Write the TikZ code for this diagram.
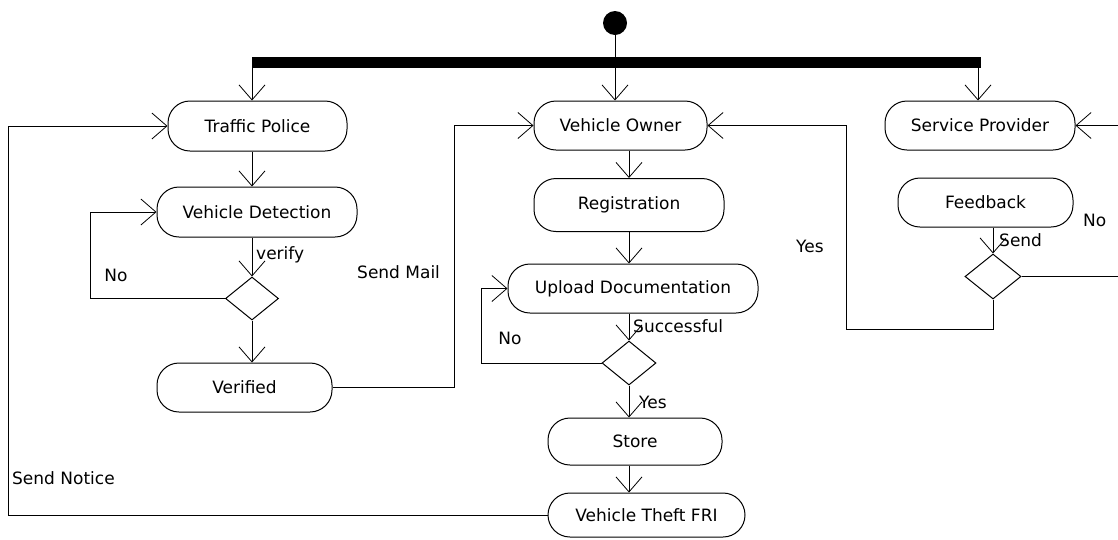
\documentclass[tikz,border=0pt]{standalone}
\usepackage{fontspec}
\setmainfont{DejaVu Sans}
\usetikzlibrary{arrows.meta,shapes.geometric}
\begin{document}
\begin{tikzpicture}[x=1pt,y=-1pt,
  every node/.style={font=\fontsize{17}{20}\selectfont},
  act/.style={draw, line width=1pt, rounded corners=22pt, inner sep=0pt, align=center},
  dec/.style={draw, line width=1pt, diamond, inner sep=0pt},
  lab/.style={inner sep=0pt},
  conn/.style={draw, line width=0.9pt},
  arr/.style={conn, -{Straight Barb[length=15pt,width=26pt,line width=0.8pt]}}
]
\useasboundingbox (0,0) rectangle (1118,539);
% column coordinates
\coordinate (cL) at (252,0);
\coordinate (cM) at (629,0);
\coordinate (cS) at (978,0);
\coordinate (xL) at (8,0);
\coordinate (xD) at (90,0);
\coordinate (xm) at (454,0);
\coordinate (xU) at (481,0);
\coordinate (xv) at (846,0);
\coordinate (xr) at (1126,0);
\coordinate (yb) at (0,329);

% start and fork
\node[circle, fill=black, minimum size=24pt, inner sep=0pt] (start) at (615,23) {};
\node[fill=black, minimum width=729pt, minimum height=11pt, inner sep=0pt] (bar) at (616.5,62.5) {};

% activities
\node[act, minimum width=179pt, minimum height=50pt] (tp) at (257.5,126) {Traffic Police};
\node[act, minimum width=200pt, minimum height=50pt] (vd) at (257,212) {Vehicle Detection};
\node[act, minimum width=175pt, minimum height=49pt] (vf) at (244.5,387.5) {Verified};
\node[act, minimum width=173pt, minimum height=49pt] (vo) at (620.5,125.5) {Vehicle Owner};
\node[act, minimum width=190pt, minimum height=53pt] (reg) at (629,205) {Registration};
\node[act, minimum width=250pt, minimum height=49pt] (up) at (633,288.5) {Upload Documentation};
\node[act, minimum width=174pt, minimum height=47pt] (st) at (635,441.5) {Store};
\node[act, minimum width=197pt, minimum height=44pt] (fir) at (646.5,515) {Vehicle Theft FRI};
\node[act, minimum width=190pt, minimum height=49pt] (sp) at (980,125.5) {Service Provider};
\node[act, minimum width=175pt, minimum height=49pt] (fb) at (985.5,202.5) {Feedback};

% decisions
\node[dec, minimum width=53pt, minimum height=43pt] (d1) at (252,298.5) {};
\node[dec, minimum width=54pt, minimum height=44pt] (d3) at (629,363) {};
\node[dec, minimum width=56pt, minimum height=45pt] (d2) at (993,276.5) {};

% connectors
\draw[conn] (start) -- (start |- bar.north);
\draw[arr] (start |- bar.south) -- (vo.north -| start);
\draw[arr] (bar.south -| cL) -- (tp.north -| cL);
\draw[arr] (bar.south -| cS) -- (sp.north -| cS);

\draw[arr] (tp.south -| cL) -- (vd.north -| cL);
\draw[arr] (vd.south -| cL) -- (d1.north);
\draw[arr] (d1.south) -- (vf.north -| d1);
\draw[arr] (d1.west) -- (d1.west -| xD) |- (vd.west);
\draw[arr] (vf.east) -- (vf.east -| xm) |- (vo.west);

\draw[arr] (vo.south -| cM) -- (reg.north -| cM);
\draw[arr] (reg.south -| cM) -- (up.north -| cM);
\draw[arr] (up.south -| cM) -- (d3.north);
\draw[arr] (d3.south) -- (st.north -| d3);
\draw[arr] (st.south -| cM) -- (fir.north -| cM);
\draw[arr] (d3.west) -- (d3.west -| xU) |- (up.west);
\draw[arr] (fir.west) -- (fir.west -| xL) |- (tp.west);

\draw[arr] (fb.south -| d2) -- (d2.north);
\draw[arr] (d2.east) -- (d2.east -| xr) |- (sp.east);
\draw[arr] (d2.south) -- (d2.south |- yb) -- (xv |- yb) |- (vo.east);

% labels
\node[lab, anchor=west] (lverify) at (256,255) {verify};
\node[lab] (lno1) at (116,275) {No};
\node[lab, anchor=west] (lmail) at (357,272) {Send Mail};
\node[lab, anchor=west] (lnotice) at (12,478) {Send Notice};
\node[lab] (lno2) at (510,338) {No};
\node[lab, anchor=west] (lsucc) at (633,326) {Successful};
\node[lab, anchor=west] (lyes1) at (639,402) {Yes};
\node[lab, anchor=west] (lyes2) at (796,246) {Yes};
\node[lab, anchor=west] (lsend) at (999,240) {Send};
\node[lab, anchor=west] (lno3) at (1083,220) {No};
\end{tikzpicture}
\end{document}
